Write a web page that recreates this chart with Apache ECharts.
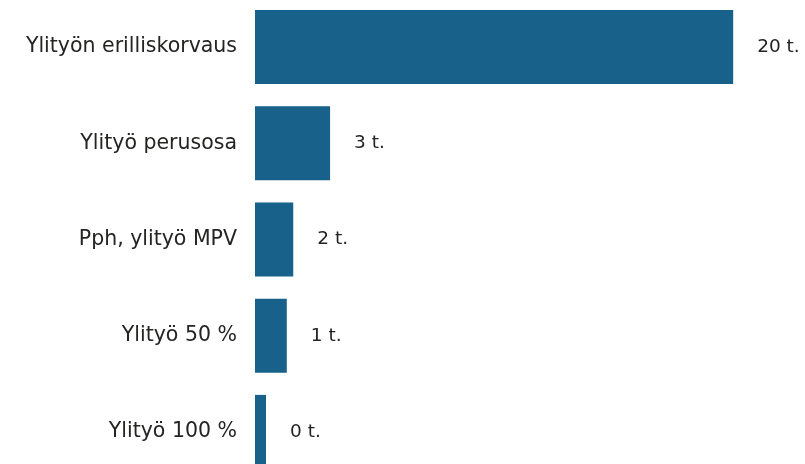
<!DOCTYPE html>
<html>
<head>
<meta charset="utf-8">
<script src="https://cdn.jsdelivr.net/npm/echarts@6/dist/echarts.min.js"></script>
<style>
html,body{margin:0;padding:0;background:#fff;}
#main{width:805px;height:464px;}
</style>
</head>
<body>
<div id="main"></div>
<script>
// 数据
var categories = ['Ylityön erilliskorvaus', 'Ylityö perusosa', 'Pph, ylityö MPV', 'Ylityö 50 %', 'Ylityö 100 %'];
var hours = [20, 3.14, 1.6, 1.33, 0.46];

var myChart = echarts.init(document.getElementById('main'));
var option = {
	animation: false,
	grid: {
		left: 255,
		top: -1,
		width: 526,
		height: 481,
		outerBoundsMode: 'none' // 不限制在容器内，最后一条会被截掉
	},
	xAxis: {
		type: 'value',
		min: 0,
		max: 22,
		show: false
	},
	yAxis: {
		type: 'category',
		data: categories,
		inverse: true,
		axisLine: { show: false },
		axisTick: { show: false },
		axisLabel: {
			margin: 18,
			color: '#252423',
			fontSize: 20.5,
			fontFamily: 'DejaVu Sans'
		}
	},
	series: [{
		type: 'bar',
		data: hours,
		barWidth: 74,
		itemStyle: { color: '#17618A' },
		label: {
			show: true,
			position: 'right',
			distance: 24,
			color: '#252423',
			fontSize: 18.5,
			fontFamily: 'DejaVu Sans',
			formatter: function (p) { return Math.round(p.value) + ' t.'; } // 取整显示
		}
	}]
};
myChart.setOption(option);
</script>
</body>
</html>
